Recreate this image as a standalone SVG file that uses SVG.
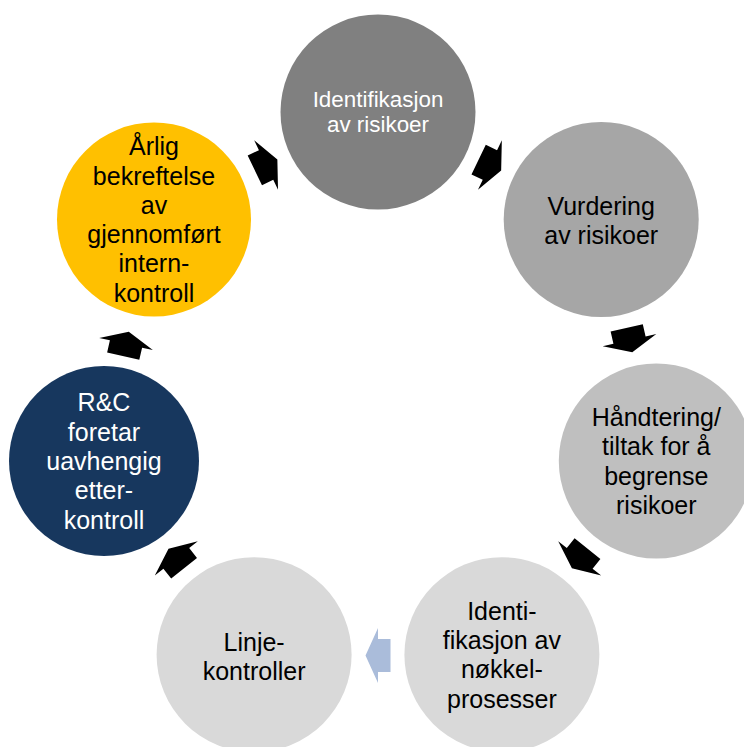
<svg xmlns="http://www.w3.org/2000/svg" xmlns:xlink="http://www.w3.org/1999/xlink" width="744" height="747" viewBox="0 0 744 747">
<style>
text{font-family:"Liberation Sans",Arial,sans-serif;font-size:25px;text-anchor:middle;fill:#000}
.w{fill:#FFFFFF}
.s{font-size:22.4px}
.arrow{fill:#000}
</style>
<defs>
<polygon id="arr" points="-12.5,-16.5 0,-16.5 0,-27.5 12.5,0 0,27.5 0,16.5 -12.5,16.5"/>
</defs>
<rect width="744" height="747" fill="#FFFFFF"/>
<g id="connectors">
<use xlink:href="#arr" class="arrow" transform="translate(489.9,165) rotate(25.71)"/>
<use xlink:href="#arr" class="arrow" transform="translate(629.5,340.1) rotate(77.14)"/>
<use xlink:href="#arr" class="arrow" transform="translate(579.7,558.4) rotate(128.57)"/>
<use xlink:href="#arr" fill="#AABCDA" transform="translate(378,655.5) rotate(180)"/>
<use xlink:href="#arr" class="arrow" transform="translate(176.3,558.4) rotate(231.43)"/>
<use xlink:href="#arr" class="arrow" transform="translate(126,344) rotate(282.86)"/>
<use xlink:href="#arr" class="arrow" transform="translate(266.1,165) rotate(334.29)"/>
</g>
<g id="node1">
<circle cx="378" cy="112" r="97.5" fill="#808080"/>
<text class="w s" x="378" y="106.5">Identifikasjon</text>
<text class="w s" x="378" y="132">av risikoer</text>
</g>
<g id="node2">
<circle cx="601.2" cy="219.5" r="97.5" fill="#A6A6A6"/>
<text x="601.2" y="215">Vurdering</text>
<text x="601.2" y="244">av risikoer</text>
</g>
<g id="node3">
<circle cx="656.3" cy="461" r="97.5" fill="#BFBFBF"/>
<text x="656.3" y="426">Håndtering/</text>
<text x="656.3" y="455.3">tiltak for å</text>
<text x="656.3" y="484.6">begrense</text>
<text x="656.3" y="513.9">risikoer</text>
</g>
<g id="node4">
<circle cx="501.9" cy="654.7" r="97.5" fill="#D9D9D9"/>
<text x="501.9" y="619.7">Identi-</text>
<text x="501.9" y="649">fikasjon av</text>
<text x="501.9" y="678.3">nøkkel-</text>
<text x="501.9" y="707.6">prosesser</text>
</g>
<g id="node5">
<circle cx="254.1" cy="654.7" r="97.5" fill="#D9D9D9"/>
<text x="254.1" y="650.5">Linje-</text>
<text x="254.1" y="679.8">kontroller</text>
</g>
<g id="node6">
<circle cx="104" cy="461" r="95" fill="#17375E"/>
<text class="w" x="104" y="411.4">R&amp;C</text>
<text class="w" x="104" y="440.7">foretar</text>
<text class="w" x="104" y="470">uavhengig</text>
<text class="w" x="104" y="499.3">etter-</text>
<text class="w" x="104" y="528.6">kontroll</text>
</g>
<g id="node7">
<circle cx="154" cy="219.5" r="97" fill="#FFC000"/>
<text x="154" y="155.25">Årlig</text>
<text x="154" y="184.55">bekreftelse</text>
<text x="154" y="213.85">av</text>
<text x="154" y="243.15">gjennomført</text>
<text x="154" y="272.45">intern-</text>
<text x="154" y="301.75">kontroll</text>
</g>
</svg>
